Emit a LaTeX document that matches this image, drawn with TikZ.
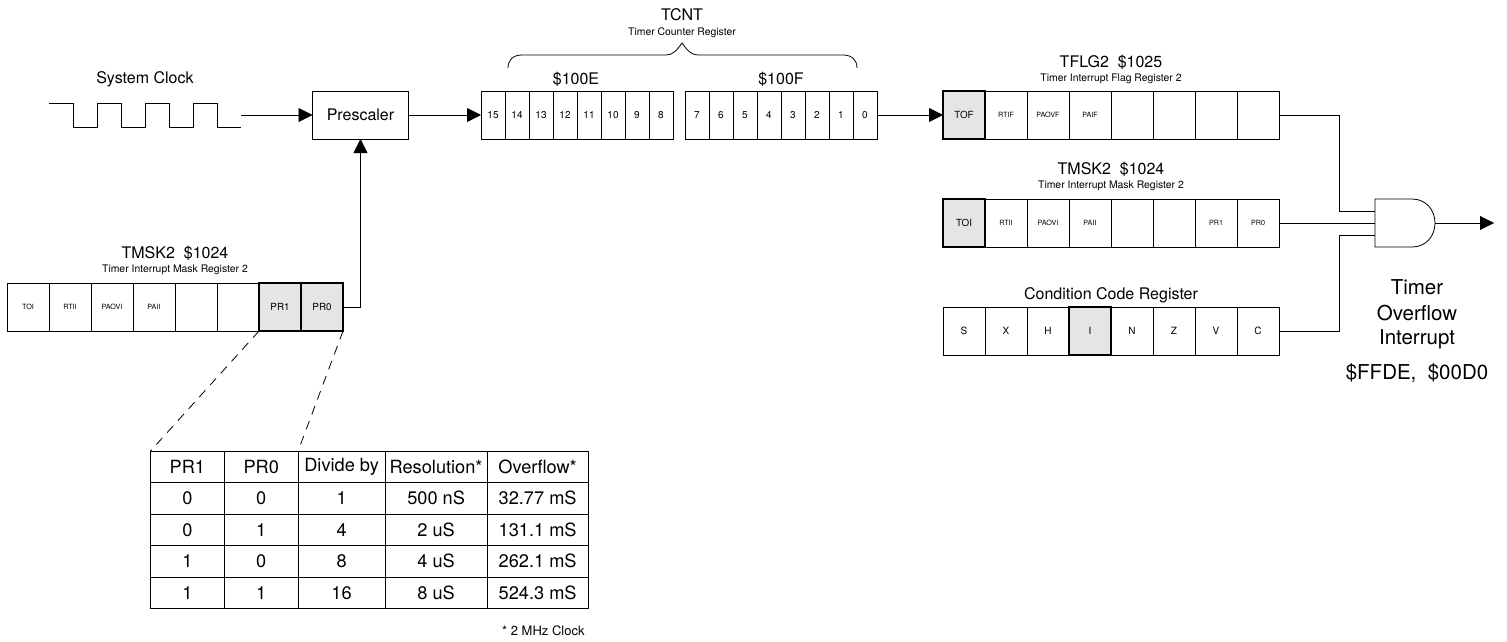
\documentclass[tikz,border=0pt]{standalone}
\usepackage{fontspec}
\setmainfont{TeX Gyre Heros}
\usetikzlibrary{arrows.meta}
\newcommand{\fs}[1]{\fontsize{#1}{#1}\selectfont}

\begin{document}
\begin{tikzpicture}[x=1pt,y=-1pt,line width=0.8pt,
  wire/.style={draw,line width=0.8pt},
  tipwire/.style={wire,-{Triangle[length=14pt,width=14pt]}},
  bitbox/.style={draw,inner sep=0pt,outer sep=0pt,minimum width=42pt,minimum height=48pt,font=\fs{7.2}},
  letbox/.style={bitbox,font=\fs{10}},
  hibox/.style={bitbox,fill=black!10,line width=1.5pt,font=\fs{9.8}},
  cntbox/.style={bitbox,minimum width=24pt,font=\fs{10}},
  prcol/.style={draw,inner sep=0pt,outer sep=0pt,minimum width=73.8pt,minimum height=31.5pt,font=\fs{18.2}},
  divcol/.style={prcol,minimum width=87pt},
  rescol/.style={prcol,minimum width=102pt},
  ovfcol/.style={prcol,minimum width=101pt},
  title/.style={font=\fs{16},inner sep=0pt},
  subtitle/.style={font=\fs{10.4},inner sep=0pt},
  big/.style={font=\fs{20.5},inner sep=0pt},
  cutline/.style={dash pattern=on 9pt off 7pt}]
  \useasboundingbox (0,0) rectangle (1507,641);
  % clock
  \draw ( 145, 79) node[title] (clktext) {System Clock};
  \draw[wire] ( 49,103) -- ( 73,103) -- ( 73,127) -- ( 97,127) -- ( 97,103) -- (121,103)
    -- (121,127) -- (145,127) -- (145,103) -- (169,103) -- (169,127) -- (193,127)
    -- (193,103) -- (217,103) -- (217,127) -- (241,127);
  \coordinate (clkout) at (241,115);
  \draw (360.5,115) node[draw,inner sep=0pt,outer sep=0pt,minimum width=96pt,minimum height=48pt,font=\fs{16}] (pre) {Prescaler};
  % left TMSK2
  \draw ( 175,253) node[title] (mskltext) {TMSK2\ \ \$1024};
  \draw ( 175,270) node[subtitle] (msklsub) {Timer Interrupt Mask Register 2};
  \draw (  28,307) node[bitbox] (ltoi) {TOI};
  \draw (  70,307) node[bitbox] (lrti) {RTII};
  \draw ( 112,307) node[bitbox] (lpao) {PAOVI};
  \draw ( 154,307) node[bitbox] (lpai) {PAII};
  \draw ( 196,307) node[bitbox] (lbit3) {};
  \draw ( 238,307) node[bitbox] (lbit2) {};
  \draw ( 280,307) node[hibox] (lpr1) {PR1};
  \draw ( 322,307) node[hibox] (lpr0) {PR0};
  % TCNT
  \draw ( 682, 15) node[title] (cnttext) {TCNT};
  \draw ( 682, 33) node[subtitle] (cntsub) {Timer Counter Register};
  \draw ( 508, 68) .. controls (508,60) and (513,55) .. (522,55) -- (666,55)
    .. controls (673,55) and (677,50) .. (682,43) .. controls (687,50) and (691,55) .. (698,55)
    -- (843,55) .. controls (852,55) and (857,60) .. (857,68);
  \draw ( 576, 79) node[title] (hitext) {\$100E};
  \draw ( 781, 79) node[title] (lotext) {\$100F};
  \draw ( 493,115) node[cntbox] (c15) {15};
  \draw ( 517,115) node[cntbox] (c14) {14};
  \draw ( 541,115) node[cntbox] (c13) {13};
  \draw ( 565,115) node[cntbox] (c12) {12};
  \draw ( 589,115) node[cntbox] (c11) {11};
  \draw ( 613,115) node[cntbox] (c10) {10};
  \draw ( 637,115) node[cntbox] (c9) {9};
  \draw ( 661,115) node[cntbox] (c8) {8};
  \draw ( 697,115) node[cntbox] (c7) {7};
  \draw ( 721,115) node[cntbox] (c6) {6};
  \draw ( 745,115) node[cntbox] (c5) {5};
  \draw ( 769,115) node[cntbox] (c4) {4};
  \draw ( 793,115) node[cntbox] (c3) {3};
  \draw ( 817,115) node[cntbox] (c2) {2};
  \draw ( 841,115) node[cntbox] (c1) {1};
  \draw ( 865,115) node[cntbox] (c0) {0};
  % TFLG2
  \draw (1111, 62) node[title] (flgtext) {TFLG2\ \ \$1025};
  \draw (1111, 79) node[subtitle] (flgsub) {Timer Interrupt Flag Register 2};
  \draw (1006,115) node[bitbox] (frti) {RTIF};
  \draw (1048,115) node[bitbox] (fpao) {PAOVF};
  \draw (1090,115) node[bitbox] (fpai) {PAIF};
  \draw (1132,115) node[bitbox] (fbit3) {};
  \draw (1174,115) node[bitbox] (fbit2) {};
  \draw (1216,115) node[bitbox] (fbit1) {};
  \draw (1258,115) node[bitbox] (fbit0) {};
  \draw ( 964,115) node[hibox] (ftof) {TOF};
  % right TMSK2
  \draw (1111,169) node[title] (mskrtext) {TMSK2\ \ \$1024};
  \draw (1111,186) node[subtitle] (mskrsub) {Timer Interrupt Mask Register 2};
  \draw (1006,223) node[bitbox] (rrti) {RTII};
  \draw (1048,223) node[bitbox] (rpao) {PAOVI};
  \draw (1090,223) node[bitbox] (rpai) {PAII};
  \draw (1132,223) node[bitbox] (rbit3) {};
  \draw (1174,223) node[bitbox] (rbit2) {};
  \draw (1216,223) node[bitbox] (rpr1) {PR1};
  \draw (1258,223) node[bitbox] (rpr0) {PR0};
  \draw ( 964,223) node[hibox] (rtoi) {TOI};
  % CCR
  \draw (1111,295) node[title] (ccrtext) {Condition Code Register};
  \draw ( 964,331) node[letbox] (ccs) {S};
  \draw (1006,331) node[letbox] (ccx) {X};
  \draw (1048,331) node[letbox] (cch) {H};
  \draw (1132,331) node[letbox] (ccn) {N};
  \draw (1174,331) node[letbox] (ccz) {Z};
  \draw (1216,331) node[letbox] (ccv) {V};
  \draw (1258,331) node[letbox] (ccc) {C};
  \draw (1090,331) node[hibox,font=\fs{10}] (cci) {I};
  % and gate
  \coordinate (andin1) at (1375,211);
  \coordinate (andin2) at (1375,223);
  \coordinate (andin3) at (1375,235);
  \coordinate (andout) at (1435,223);
  \coordinate (endtip) at (1494,223);
  \coordinate (bus) at (1339,223);
  \draw (1375,199) -- (1412,199) .. controls (1426,199) and (1435,210) .. (andout)
    .. controls (1435,236) and (1426,247) .. (1412,247) -- (1375,247) -- cycle;
  \draw (1417,287) node[big] (ovf1) {Timer};
  \draw (1417,313) node[big] (ovf2) {Overflow};
  \draw (1417,339) node[big] (ovf3) {Interrupt};
  \draw (1417,373) node[big] (ovf4) {\$FFDE,\ \ \$00D0};
  % table
  \draw ( 187.4,466.75) node[prcol] (h1) {PR1};
  \draw ( 261.2,466.75) node[prcol] (h2) {PR0};
  \draw ( 341.6,466.75) node[divcol] (h3) {Divide by};
  \draw ( 436.1,466.75) node[rescol] (h4) {Resolution*};
  \draw ( 537.6,466.75) node[ovfcol] (h5) {Overflow*};
  \draw ( 187.4,498.25) node[prcol] (a1) {0};
  \draw ( 261.2,498.25) node[prcol] (a2) {0};
  \draw ( 341.6,498.25) node[divcol] (a3) {1};
  \draw ( 436.1,498.25) node[rescol] (a4) {500 nS};
  \draw ( 537.6,498.25) node[ovfcol] (a5) {32.77 mS};
  \draw ( 187.4,529.75) node[prcol] (b1) {0};
  \draw ( 261.2,529.75) node[prcol] (b2) {1};
  \draw ( 341.6,529.75) node[divcol] (b3) {4};
  \draw ( 436.1,529.75) node[rescol] (b4) {2 uS};
  \draw ( 537.6,529.75) node[ovfcol] (b5) {131.1 mS};
  \draw ( 187.4,561.25) node[prcol] (d1) {1};
  \draw ( 261.2,561.25) node[prcol] (d2) {0};
  \draw ( 341.6,561.25) node[divcol] (d3) {8};
  \draw ( 436.1,561.25) node[rescol] (d4) {4 uS};
  \draw ( 537.6,561.25) node[ovfcol] (d5) {262.1 mS};
  \draw ( 187.4,592.75) node[prcol] (e1) {1};
  \draw ( 261.2,592.75) node[prcol] (e2) {1};
  \draw ( 341.6,592.75) node[divcol] (e3) {16};
  \draw ( 436.1,592.75) node[rescol] (e4) {8 uS};
  \draw ( 537.6,592.75) node[ovfcol] (e5) {524.3 mS};
  \draw ( 585,631) node[anchor=east,subtitle,font=\fs{13}] (clknote) {* 2 MHz Clock};
  % connectors
  \draw[tipwire] (clkout) -- (pre.west);
  \draw[tipwire] (pre.east) -- (c15.west);
  \draw[tipwire] (lpr0.east) -| (pre.south);
  \draw[tipwire] (c0.east) -- (ftof.west);
  \draw[wire] (fbit0.east) -| (bus |- andin1) -- (andin1);
  \draw[wire] (rpr0.east) -- (andin2);
  \draw[wire] (ccc.east) -| (bus |- andin3) -- (andin3);
  \draw[tipwire] (andout) -- (endtip);
  \draw[cutline] (lpr1.south west) -- (h1.north west);
  \draw[cutline] (lpr0.south east) -- (h2.north east);
\end{tikzpicture}
\end{document}
